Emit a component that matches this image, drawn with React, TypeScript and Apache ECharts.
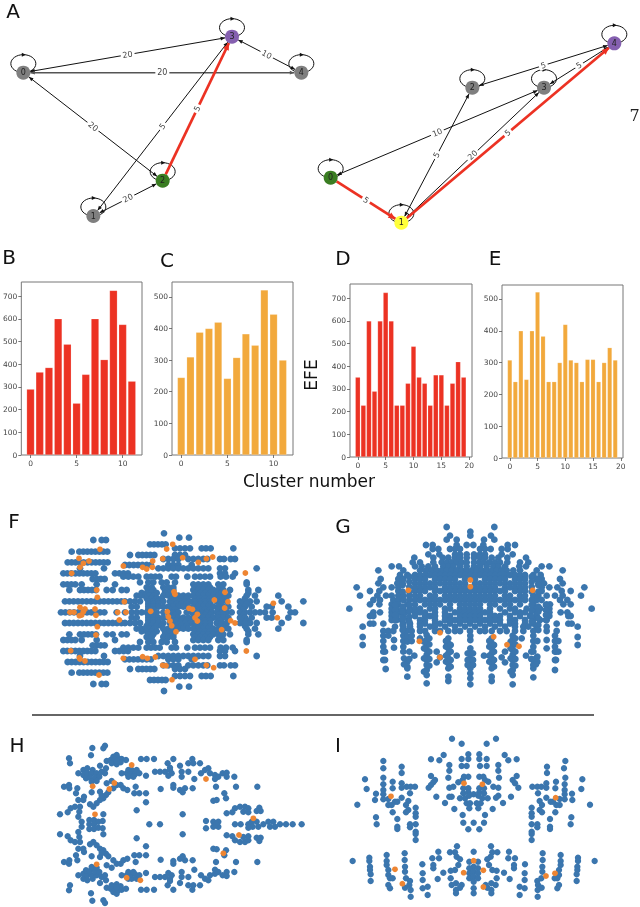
import React, { useEffect, useRef } from "react";
import * as echarts from "echarts";

const FONT = "'DejaVu Sans', sans-serif";
const RED = "#ec3223";
const ORANGE_BAR = "#f2a93c";
const BLUE = "#3b76ae";
const ORANGE = "#ee8532";

// Bar charts
const valuesB = [290, 365, 385, 600, 488, 228, 355, 600, 420, 725, 575, 325];
const valuesC = [245, 310, 388, 400, 420, 242, 308, 383, 347, 522, 445, 300];
const valuesD = [352, 228, 600, 290, 600, 725, 600, 228, 228, 325, 488, 352, 325, 228, 362, 362, 228, 325, 420, 352];
const valuesE = [308, 240, 400, 247, 400, 522, 383, 240, 240, 300, 420, 308, 300, 240, 310, 310, 240, 300, 347, 308];
const ticks12 = [0, 5, 10];
const ticks20 = [0, 5, 10, 15, 20];
const ticksRed = [0, 100, 200, 300, 400, 500, 600, 700];
const ticksOrange = [0, 100, 200, 300, 400, 500];

// Networks: [label, x, y, colour]
const nodesL: [string, number, number, string][] = [
  ["0", 70, 218, "#7f7f7f"], ["1", 280, 648, "#7f7f7f"], ["2", 488, 542, "#3a7d22"],
  ["3", 696, 110, "#8560b0"], ["4", 904, 218, "#7f7f7f"],
];
// [from, to, weight, arrow at start, highlighted]
const edgesL: [number, number, number, number, number][] = [
  [0, 3, 20, 1, 0], [0, 4, 20, 1, 0], [0, 2, 20, 1, 0], [1, 3, 5, 1, 0], [1, 2, 20, 1, 0], [3, 4, 10, 1, 0], [2, 3, 5, 0, 1],
];
const nodesR: [string, number, number, string][] = [
  ["0", 62, 533, "#3a7d22"], ["1", 274, 668, "#ffff3a"], ["2", 487, 263, "#7f7f7f"],
  ["3", 702, 263, "#7f7f7f"], ["4", 913, 130, "#8560b0"],
];
const edgesR: [number, number, number, number, number][] = [
  [1, 2, 5, 1, 0], [1, 3, 20, 1, 0], [0, 3, 10, 1, 0], [2, 4, 5, 1, 0], [3, 4, 5, 1, 0], [0, 1, 5, 0, 1], [1, 4, 5, 0, 1],
];

// Scatter F: rows [y, x, x, ...]
const rowsF = [
  [85, 492], [98, 538, 567], [105, 280, 305, 318], [118, 450, 462, 474, 486, 497], [130, 525, 540, 555, 570, 605, 618, 632, 700],
  [140, 215, 238, 250, 262, 274, 286, 298, 310, 322], [150, 390, 415, 427, 439, 451, 463, 525, 540, 555],
  [162, 490, 505, 520, 535, 565, 580, 595, 610, 622, 660, 672, 692, 705],
  [172, 203, 215, 227, 239, 251, 263, 275, 287, 299, 311, 323],
  [180, 375, 388, 401, 414, 427, 440, 453, 505, 520, 535, 575],
  [190, 240, 312, 475, 490, 505, 520, 535, 550, 565, 580, 595, 610, 625, 660, 675, 770],
  [205, 190, 202, 214, 226, 238, 250, 262, 274, 286, 345, 358, 371, 384, 660, 675, 705],
  [215, 370, 385, 400, 415, 440, 453, 466, 479, 515, 528, 562, 585, 600, 615, 630, 662, 678, 698],
  [222, 278, 290, 302, 314], [232, 420, 445, 460, 485, 500, 525, 740],
  [238, 190, 202, 214, 226, 245, 290, 345, 580, 595, 610, 625, 655, 670, 740],
  [247, 440, 455, 490, 505, 520, 585, 600, 615, 630, 660],
  [255, 208, 240, 252, 264, 276, 288, 320, 338, 365, 380, 445, 460, 495, 520, 580, 595, 610, 625, 640, 655, 670, 690, 745, 775],
  [264, 425, 440, 455, 470, 495, 510, 585, 600, 615, 630, 650, 665, 745],
  [272, 410, 423, 436, 449, 462, 490, 505, 520, 535, 550, 565, 580, 595, 610, 625, 640, 655, 670, 685, 740, 765, 835],
  [280, 440, 455, 470, 485, 515, 530, 545, 560, 585, 600, 615, 630, 660, 675, 735],
  [289, 195, 208, 221, 234, 247, 260, 273, 286, 299, 312, 325, 338, 351, 364, 375, 390, 405, 420, 445, 460, 475, 490, 510, 525, 540, 555, 570, 585, 600, 615, 630, 650, 665, 680, 720, 735, 750, 770, 845, 910],
  [297, 445, 460, 475, 515, 530, 545, 560, 585, 600, 615, 630, 660, 725, 740],
  [305, 395, 410, 445, 460, 475, 490, 505, 520, 535, 550, 565, 580, 595, 610, 625, 640, 655, 670, 685, 720, 735, 755, 800, 815, 865],
  [313, 445, 460, 510, 525, 585, 600, 615, 630, 655, 670, 730],
  [322, 183, 196, 209, 222, 235, 248, 261, 274, 287, 300, 313, 350, 375, 395, 410, 425, 440, 455, 470, 490, 505, 520, 535, 560, 575, 590, 605, 620, 635, 650, 665, 680, 695, 720, 735, 750, 765, 780, 795, 818, 872, 885],
  [330, 445, 460, 510, 525, 585, 600, 615, 630, 655, 670, 730],
  [338, 395, 410, 445, 460, 475, 490, 505, 520, 535, 550, 565, 580, 595, 610, 625, 640, 655, 670, 685, 720, 735, 755, 800, 815, 865],
  [346, 445, 460, 475, 515, 530, 545, 560, 585, 600, 615, 630, 660, 725, 740],
  [354, 195, 208, 221, 234, 247, 260, 273, 286, 299, 312, 325, 338, 351, 364, 375, 390, 405, 420, 445, 460, 475, 490, 510, 525, 540, 555, 570, 585, 600, 615, 630, 650, 665, 680, 720, 735, 750, 770, 845, 910],
  [363, 440, 455, 470, 485, 515, 530, 545, 560, 585, 600, 615, 630, 660, 675, 735],
  [371, 410, 423, 436, 449, 462, 490, 505, 520, 535, 550, 565, 580, 595, 610, 625, 640, 655, 670, 685, 740, 765, 835],
  [379, 425, 440, 455, 470, 495, 510, 585, 600, 615, 630, 650, 665, 745],
  [388, 208, 240, 252, 264, 276, 288, 320, 338, 365, 380, 445, 460, 495, 520, 580, 595, 610, 625, 640, 655, 670, 690, 745, 775],
  [396, 440, 455, 490, 505, 520, 585, 600, 615, 630, 660],
  [405, 190, 202, 214, 226, 245, 290, 345, 580, 595, 610, 625, 655, 670, 740],
  [411, 420, 445, 460, 485, 500, 525, 740], [421, 278, 290, 302, 314],
  [428, 370, 385, 400, 415, 440, 453, 466, 479, 515, 528, 562, 585, 600, 615, 630, 662, 678, 698],
  [438, 190, 202, 214, 226, 238, 250, 262, 274, 286, 345, 358, 371, 384, 660, 675, 705],
  [453, 240, 312, 475, 490, 505, 520, 535, 550, 565, 580, 595, 610, 625, 660, 675, 770],
  [463, 375, 388, 401, 414, 427, 440, 453, 505, 520, 535, 575],
  [471, 203, 215, 227, 239, 251, 263, 275, 287, 299, 311, 323],
  [481, 490, 505, 520, 535, 565, 580, 595, 610, 622, 660, 672, 692, 705],
  [492, 390, 415, 427, 439, 451, 463, 525, 540, 555], [503, 215, 238, 250, 262, 274, 286, 298, 310, 322],
  [513, 525, 540, 555, 570, 605, 618, 632, 700], [525, 450, 462, 474, 486, 497], [537, 280, 305, 318], [545, 538, 567], [558, 492],
];
const orangeF = [
  [300, 133], [518, 118], [500, 132], [488, 161], [458, 168], [548, 158], [595, 172], [619, 161], [638, 156], [237, 160], [267, 168], [250, 175], [240, 187],
  [370, 183], [428, 187], [440, 192], [457, 187], [215, 205], [736, 204], [290, 255], [292, 277], [522, 260], [525, 268], [675, 262], [373, 290], [684, 290], [643, 285],
  [240, 307], [255, 312], [250, 320], [245, 330], [238, 332], [210, 322], [222, 322], [285, 312], [288, 331], [353, 322], [378, 322], [452, 319], [502, 320], [505, 335],
  [510, 348], [515, 362], [528, 380], [567, 310], [577, 313], [592, 328], [585, 338], [592, 348], [674, 309], [692, 347], [705, 354], [665, 374], [820, 295], [832, 338],
  [358, 345], [292, 365], [288, 390], [212, 437], [739, 438], [238, 458], [255, 468], [240, 462], [370, 460], [428, 455], [442, 460], [466, 456], [488, 481], [498, 482],
  [585, 463], [619, 481], [641, 488], [297, 510], [516, 524],
];

// Scatter G: rows [y, x, ...] for the upper body, columns [x, y, ...] for the legs
const rowsG = [
  [66, 380, 523], [80, 451], [92, 390, 451, 513], [104, 380, 410, 492, 523], [120, 318, 338, 410, 440, 460, 490, 563, 585],
  [132, 338, 355, 390, 405, 420, 480, 495, 512, 545, 563], [148, 325, 358, 405, 420, 440, 462, 480, 495, 545, 578],
  [158, 283, 340, 368, 385, 405, 420, 440, 462, 480, 495, 515, 535, 562, 618],
  [172, 278, 300, 340, 365, 380, 395, 410, 425, 440, 462, 478, 492, 508, 525, 540, 562, 600, 625],
  [184, 215, 237, 285, 305, 325, 345, 370, 385, 400, 420, 440, 462, 480, 500, 520, 535, 555, 598, 618, 665, 688],
  [196, 175, 250, 300, 318, 335, 350, 365, 380, 395, 410, 425, 440, 455, 470, 485, 500, 515, 530, 545, 560, 580, 600, 650, 728],
  [210, 240, 262, 285, 300, 315, 330, 345, 360, 375, 390, 405, 420, 435, 450, 465, 480, 495, 510, 525, 540, 555, 570, 585, 600, 615, 640, 662],
  [222, 182, 235, 250, 285, 300, 315, 345, 360, 375, 390, 405, 435, 465, 495, 510, 525, 540, 555, 585, 600, 615, 650, 665, 720],
  [235, 175, 232, 248, 285, 300, 315, 330, 345, 360, 375, 390, 405, 420, 435, 465, 480, 495, 510, 525, 540, 555, 570, 585, 600, 615, 655, 672, 728],
  [247, 110, 190, 215, 235, 285, 300, 315, 330, 345, 375, 390, 405, 420, 435, 450, 465, 480, 495, 510, 525, 555, 570, 585, 600, 615, 665, 688, 712, 793],
  [258, 150, 178, 235, 285, 300, 315, 345, 360, 375, 390, 405, 420, 435, 450, 465, 480, 495, 510, 525, 540, 555, 585, 600, 615, 665, 725, 752],
  [272, 120, 172, 198, 215, 235, 250, 268, 285, 300, 330, 345, 375, 390, 405, 420, 435, 450, 465, 480, 495, 510, 525, 555, 570, 600, 615, 640, 655, 680, 705, 728, 783],
  [285, 160, 180, 220, 235, 250, 285, 300, 315, 330, 345, 360, 375, 390, 405, 420, 435, 450, 465, 480, 495, 510, 525, 540, 555, 570, 585, 600, 615, 650, 665, 720, 742],
  [298, 150, 178, 215, 235, 262, 285, 315, 330, 345, 360, 390, 420, 435, 450, 465, 480, 510, 525, 555, 570, 600, 640, 680, 690, 730, 752],
  [311, 88, 215, 230, 250, 270, 285, 300, 330, 345, 375, 390, 420, 435, 450, 465, 480, 510, 540, 570, 585, 620, 640, 660, 688, 815],
  [322, 160, 180, 215, 240, 255, 285, 300, 315, 345, 375, 405, 420, 435, 450, 465, 480, 495, 510, 555, 585, 600, 615, 650, 688, 722, 742],
  [333, 150, 160, 215, 230, 250, 285, 315, 330, 345, 375, 390, 420, 435, 450, 465, 480, 510, 525, 540, 570, 600, 630, 650, 688, 745, 752],
  [345, 215, 230, 245, 265, 300, 315, 345, 375, 390, 405, 420, 435, 450, 465, 480, 495, 510, 525, 540, 570, 585, 615, 640, 660, 680],
  [356, 150, 160, 190, 250, 270, 300, 315, 345, 360, 390, 420, 450, 480, 510, 540, 570, 585, 615, 640, 710, 745, 755],
  [365, 128, 225, 250, 270, 300, 330, 345, 375, 405, 435, 465, 495, 525, 555, 585, 610, 625, 650, 680, 773],
  [378, 190, 205, 220, 260, 275, 300, 315, 345, 360, 385, 405, 420, 450, 480, 495, 515, 540, 560, 585, 610, 640, 680, 710],
  [396, 128, 773],
  [420, 128, 773],
];
const colsG = [
  [190, 392, 408, 425, 440, 465], [205, 392], [197, 492], [222, 405, 428], [250, 392, 408, 425, 440], [262, 395, 410, 470, 485, 490, 515], [275, 392, 408], [283, 452],
  [320, 390, 405, 420, 435, 450, 465, 480, 495, 510, 535], [350, 440, 472], [360, 457], [385, 400, 415, 430, 445, 460, 475, 490, 515, 528], [410, 452],
  [451, 392, 405, 430, 445, 460, 475, 490, 505, 520, 538], [492, 452], [515, 400, 415, 430, 445, 460, 475, 490, 515, 528], [555, 440, 472], [545, 457],
  [578, 392, 405, 420, 435, 450, 465, 480, 495, 510, 538], [618, 452], [640, 392, 408, 425, 440, 465, 480, 490, 517], [652, 408, 455, 470], [680, 405, 430],
  [705, 392, 408, 425, 440, 465, 495], [715, 408, 440], [300, 400], [605, 400],
  [268, 215, 230, 245, 260, 285, 300, 318, 335, 350], [248, 225, 240, 260, 305, 320, 340, 360, 375], [635, 215, 230, 245, 260, 285, 300, 318, 335, 350], [655, 225, 240, 260, 305, 320, 340, 360, 375],
  [225, 300, 315, 330, 345], [678, 300, 315, 330, 345],
  [252, 460, 478], [268, 440, 462], [328, 400, 418, 440, 462, 482], [312, 410, 430, 460, 500], [378, 408, 425, 452, 470], [392, 420, 440, 465, 485],
  [443, 445, 465, 480], [459, 445, 465, 480], [508, 408, 425, 452, 470], [522, 420, 440, 465, 485], [572, 410, 430, 460, 500], [586, 400, 418, 440, 462, 482], [634, 440, 462], [648, 460, 478],
  [195, 440, 465], [708, 440, 465],
];
const orangeG = [[451, 225], [451, 245], [265, 256], [638, 256], [360, 383], [298, 409], [521, 395], [561, 419], [597, 424], [360, 457]];

// Scatter H: points [x, y]
const blueH = [
  [277, 129], [315, 122], [310, 130], [273, 151], [207, 160], [210, 175], [320, 168], [332, 165], [340, 155], [350, 150], [345, 165], [355, 160], [365, 162], [378, 165], [335, 175], [350, 178], [362, 172], [350, 168],
  [423, 162], [440, 162], [462, 162], [520, 162], [503, 175], [510, 188], [540, 182], [565, 175], [577, 162], [580, 175], [600, 175],
  [235, 205], [250, 195], [262, 190], [278, 195], [300, 182], [318, 190], [250, 210], [262, 205], [275, 205], [290, 205], [305, 200], [258, 220], [270, 218], [285, 218], [298, 215], [275, 230], [290, 228], [315, 205],
  [365, 205], [380, 205], [385, 195], [395, 195], [410, 195], [392, 208], [405, 208], [418, 205], [385, 215], [400, 215], [438, 212],
  [465, 200], [480, 200], [495, 200], [510, 195], [515, 205], [505, 212], [545, 200], [565, 200], [545, 215], [583, 222],
  [603, 205], [615, 195], [625, 190], [630, 205], [645, 210], [645, 222], [655, 215], [668, 205], [680, 203], [680, 215], [703, 215],
  [192, 245], [207, 240], [208, 250], [232, 250], [228, 265], [252, 275], [275, 262], [300, 260], [320, 235], [335, 228], [350, 240], [362, 240], [370, 250], [382, 255], [340, 250], [325, 262], [318, 270], [310, 280], [300, 285], [290, 295], [305, 272],
  [407, 245], [403, 265], [418, 265], [438, 265], [438, 292], [482, 252], [520, 240], [520, 248], [540, 255], [555, 250], [548, 262], [578, 250], [648, 245], [708, 245], [772, 245], [673, 265], [678, 280], [640, 287], [650, 285],
  [235, 285], [250, 285], [240, 305], [225, 305], [212, 310], [203, 322], [180, 328], [238, 320], [235, 335], [270, 298], [280, 305], [410, 316], [310, 328], [548, 328],
  [680, 325], [697, 322], [705, 310], [720, 305], [735, 305], [745, 310], [730, 320], [745, 322], [778, 308], [770, 318], [782, 318],
  [448, 358], [480, 358], [618, 348], [618, 370], [640, 350], [655, 350], [640, 365], [655, 365], [648, 358], [705, 358], [722, 358], [745, 358], [755, 350], [770, 350], [758, 365], [775, 365], [745, 368], [790, 358], [805, 350], [820, 350], [825, 365], [810, 365], [840, 358], [858, 358], [878, 358], [905, 358],
  [245, 350], [245, 365], [268, 345], [282, 345], [295, 350], [308, 348], [268, 358], [282, 358], [268, 372], [282, 372], [295, 368], [308, 370],
  [680, 391], [697, 394], [705, 406], [720, 411], [735, 411], [745, 406], [730, 396], [745, 394], [778, 408], [770, 398], [782, 398],
  [235, 431], [250, 431], [240, 411], [225, 411], [212, 406], [203, 394], [180, 388], [238, 396], [235, 381], [270, 418], [280, 411], [410, 400], [310, 388], [548, 388],
  [192, 471], [207, 476], [208, 466], [232, 466], [228, 451], [252, 441], [275, 454], [300, 456], [320, 481], [335, 488], [350, 476], [362, 476], [370, 466], [382, 461], [340, 466], [325, 454], [318, 446], [310, 436], [300, 431], [290, 421], [305, 444],
  [407, 471], [403, 451], [418, 451], [438, 451], [438, 424], [482, 464], [520, 476], [520, 468], [540, 461], [555, 466], [548, 454], [578, 466], [648, 471], [708, 471], [772, 471], [673, 451], [678, 436], [640, 431], [650, 433],
  [603, 511], [615, 521], [625, 526], [630, 511], [645, 506], [645, 494], [655, 501], [668, 511], [680, 513], [680, 501], [703, 501],
  [465, 516], [480, 516], [495, 516], [510, 521], [515, 511], [505, 504], [545, 516], [565, 516], [545, 501], [583, 494],
  [365, 511], [380, 511], [385, 521], [395, 521], [410, 521], [392, 508], [405, 508], [418, 511], [385, 501], [400, 501], [438, 504],
  [235, 511], [250, 521], [262, 526], [278, 521], [300, 534], [318, 526], [250, 506], [262, 511], [275, 511], [290, 511], [305, 516], [258, 496], [270, 498], [285, 498], [298, 501], [275, 486], [290, 488], [315, 511],
  [423, 554], [440, 554], [462, 554], [520, 554], [503, 541], [510, 528], [540, 534], [565, 541], [577, 554], [580, 541], [600, 541],
  [320, 548], [332, 551], [340, 561], [350, 566], [345, 551], [355, 556], [365, 554], [378, 551], [335, 541], [350, 538], [362, 544], [350, 548],
  [277, 587], [315, 594], [310, 586], [273, 565], [207, 556], [210, 541],
];
const orangeH = [[395, 180], [278, 244], [343, 234], [328, 252], [618, 222], [285, 328], [760, 340], [717, 390], [670, 445], [290, 478], [380, 518], [421, 526]];

// Scatter I: points [x, y]
const blueI = [
  [396, 101], [528, 101], [425, 116], [500, 116], [371, 150], [554, 150], [333, 163], [590, 163], [358, 166], [565, 166], [445, 148], [478, 148], [425, 162], [445, 162], [478, 162], [500, 162], [425, 183], [440, 183], [480, 183], [500, 183],
  [388, 180], [535, 180], [388, 197], [535, 197], [385, 218], [537, 218], [333, 213], [590, 213], [345, 225], [340, 232], [333, 240], [326, 248], [578, 225], [585, 235], [595, 248], [432, 215], [445, 215], [478, 215], [490, 215],
  [388, 248], [400, 245], [415, 232], [428, 225], [495, 225], [505, 230], [520, 245], [535, 248], [430, 250], [445, 250], [478, 250], [492, 250], [430, 265], [445, 262], [478, 262], [492, 265], [435, 280], [447, 272], [461, 268], [475, 272], [487, 280],
  [440, 295], [450, 295], [470, 295], [482, 295], [388, 275], [395, 275], [535, 272], [528, 278], [349, 275], [573, 275], [375, 294], [549, 294], [420, 280], [503, 280], [403, 312], [518, 312], [448, 310], [475, 310], [428, 330], [495, 330], [430, 353], [461, 353], [492, 353], [445, 373], [478, 373],
  [190, 168], [190, 190], [245, 185], [245, 204], [190, 218], [135, 223], [218, 230], [190, 238], [245, 235], [245, 248], [260, 245], [272, 245], [285, 245], [140, 252], [190, 255], [218, 250], [190, 268], [168, 266], [270, 265], [245, 278], [165, 285], [190, 283], [205, 282], [225, 290], [232, 290], [205, 300], [215, 300], [265, 288], [258, 300], [112, 299], [218, 322], [265, 315], [258, 322], [287, 308], [287, 325], [287, 335], [168, 337], [170, 358], [232, 342], [232, 365], [232, 372], [270, 358], [270, 367], [287, 358], [287, 380], [287, 387], [287, 405],
  [736, 168], [732, 190], [681, 185], [681, 204], [736, 218], [787, 223], [708, 230], [734, 238], [679, 235], [679, 248], [664, 245], [652, 245], [637, 245], [784, 252], [734, 255], [706, 250], [734, 268], [756, 266], [654, 265], [679, 278], [757, 285], [734, 283], [719, 282], [699, 290], [692, 290], [719, 300], [709, 300], [659, 288], [666, 300], [810, 299], [706, 322], [659, 315], [666, 322], [635, 308], [635, 325], [635, 335], [754, 337], [752, 358], [690, 342], [690, 365], [690, 372], [652, 358], [652, 367], [635, 358], [635, 380], [635, 387], [635, 405],
  [98, 468], [148, 458], [148, 468], [150, 485], [150, 495], [152, 508], [152, 528], [200, 450], [200, 468], [200, 480], [205, 495], [205, 510], [210, 520], [218, 520], [205, 540], [210, 550], [254, 445], [254, 465], [255, 485], [255, 500], [258, 520], [270, 528], [268, 540], [255, 548], [272, 555], [272, 575], [307, 478], [308, 505], [308, 525], [308, 550], [323, 545], [323, 570],
  [337, 460], [355, 440], [357, 460], [340, 480], [340, 490], [353, 522], [370, 503], [390, 442], [405, 442], [410, 455], [420, 463], [415, 480], [405, 495], [392, 497], [392, 520], [408, 535], [408, 555], [408, 565], [395, 540], [425, 540], [420, 548], [411, 424],
  [461, 440], [448, 470], [461, 485], [474, 470], [448, 490], [448, 505], [448, 520], [461, 500], [461, 515], [474, 490], [474, 505], [474, 520], [461, 530], [461, 550], [461, 565],
  [513, 424], [585, 460], [567, 440], [565, 460], [582, 480], [582, 490], [569, 522], [552, 503], [532, 442], [517, 442], [512, 455], [502, 463], [507, 480], [517, 495], [530, 497], [530, 520], [514, 535], [514, 555], [514, 565], [527, 540], [497, 540], [502, 548],
  [824, 468], [774, 458], [774, 468], [772, 485], [772, 495], [770, 508], [770, 528], [722, 450], [722, 468], [722, 480], [717, 495], [717, 510], [712, 520], [704, 520], [717, 540], [712, 550], [668, 445], [668, 465], [667, 485], [667, 500], [664, 520], [652, 528], [654, 540], [665, 548], [653, 555], [653, 575], [615, 478], [614, 505], [614, 525], [614, 550], [599, 545], [599, 570],
];
const orangeI = [[213, 274], [432, 235], [487, 238], [707, 278], [461, 467], [225, 493], [431, 503], [490, 496], [247, 536], [490, 546], [678, 513], [705, 505]];

const panelLabels: [string, number, number][] = [
  ["A", 13, 11], ["B", 9, 257], ["C", 167, 260], ["D", 343, 258], ["E", 495, 258], ["F", 14, 521], ["G", 343, 526], ["H", 17, 745], ["I", 338, 745],
];

const fromRows = (rows: number[][]) => rows.flatMap(([y, ...xs]) => xs.map((x) => [x, y]));
const fromCols = (cols: number[][]) => cols.flatMap(([x, ...ys]) => ys.map((y) => [x, y]));

function barPanel(i: number, values: number[], color: string, width: number) {
  return {
    type: "bar", xAxisIndex: i, yAxisIndex: i, barWidth: width, silent: true,
    itemStyle: { color, borderColor: "rgba(255,255,255,0.35)", borderWidth: 0.5 },
    data: values.map((v, k) => [k, v]),
  };
}

function edgeItem(p: any, api: any) {
  const a = api.coord([api.value(0), api.value(1)]);
  const b = api.coord([api.value(2), api.value(3)]);
  const arrowStart = api.value(5);
  const hot = api.value(6);
  const soft = api.value(7);
  const dx = b[0] - a[0], dy = b[1] - a[1];
  const len = Math.hypot(dx, dy);
  const ux = dx / len, uy = dy / len;
  const r = 7;
  const color = hot ? RED : soft ? "#555" : "#111";
  const width = hot ? 2.7 : soft ? 1.5 : 1;
  const head = (tx: number, ty: number, vx: number, vy: number) => {
    const L = hot ? 7 : 4.5, H = hot ? 3.2 : 1.9;
    return {
      type: "polygon",
      shape: { points: [[tx, ty], [tx - vx * L - vy * H, ty - vy * L + vx * H], [tx - vx * L + vy * H, ty - vy * L - vx * H]] },
      style: { fill: color },
    };
  };
  let ang = Math.atan2(dy, dx);
  if (ang > Math.PI / 2) ang -= Math.PI;
  if (ang < -Math.PI / 2) ang += Math.PI;
  const mx = (a[0] + b[0]) / 2, my = (a[1] + b[1]) / 2;
  const txt = String(api.value(4));
  const w = txt.length * 5 + 4;
  const children: any[] = [
    { type: "line", shape: { x1: a[0] + ux * r, y1: a[1] + uy * r, x2: b[0] - ux * r, y2: b[1] - uy * r }, style: { stroke: color, lineWidth: width } },
    head(b[0] - ux * r, b[1] - uy * r, ux, uy),
  ];
  if (arrowStart) children.push(head(a[0] + ux * r, a[1] + uy * r, -ux, -uy));
  children.push(
    { type: "rect", x: mx, y: my, rotation: -ang, shape: { x: -w / 2, y: -4, width: w, height: 8 }, style: { fill: "#fff" } },
    { type: "text", x: mx, y: my, rotation: -ang, style: { text: txt, fill: "#444", font: `8px ${FONT}`, align: "center", verticalAlign: "middle" } },
  );
  return { type: "group", children };
}

function loopItem(p: any, api: any) {
  const c = api.coord([api.value(0), api.value(1)]);
  const cy = c[1] - 9;
  return {
    type: "group",
    children: [
      { type: "ellipse", shape: { cx: c[0], cy, rx: 12.5, ry: 9 }, style: { stroke: "#111", fill: "none", lineWidth: 1 } },
      { type: "polygon", shape: { points: [[c[0] + 2.5, cy - 9], [c[0] - 1.5, cy - 11], [c[0] - 1.5, cy - 7]] }, style: { fill: "#111" } },
    ],
  };
}

function network(i: number, nodes: [string, number, number, string][], edges: number[][]) {
  return [
    {
      type: "custom", xAxisIndex: i, yAxisIndex: i, silent: true, z: 2, renderItem: loopItem, clip: false,
      encode: { x: 0, y: 1 }, data: nodes.map((n) => [n[1], n[2]]),
    },
    {
      type: "custom", xAxisIndex: i, yAxisIndex: i, silent: true, z: 3, renderItem: edgeItem, clip: false,
      encode: { x: [0, 2], y: [1, 3] },
      data: edges.map(([s, t, w, start, hot]) => [nodes[s][1], nodes[s][2], nodes[t][1], nodes[t][2], w, start, hot, nodes === nodesL && s === 0 && t === 4 ? 1 : 0]),
    },
    {
      type: "scatter", xAxisIndex: i, yAxisIndex: i, silent: true, z: 4, symbolSize: 14,
      label: { show: true, position: "inside", formatter: "{b}", fontFamily: FONT, fontSize: 8, color: "#222" },
      data: nodes.map((n) => ({ name: n[0], value: [n[1], n[2]], itemStyle: { color: n[3], opacity: 1 } })),
    },
  ];
}

function dots(i: number, blue: number[][], orange: number[][], size: number) {
  return [
    { type: "scatter", xAxisIndex: i, yAxisIndex: i, silent: true, z: 2, symbolSize: size, itemStyle: { color: BLUE, opacity: 1 }, data: blue },
    { type: "scatter", xAxisIndex: i, yAxisIndex: i, silent: true, z: 3, symbolSize: 5.8, itemStyle: { color: ORANGE, opacity: 1 }, data: orange },
  ];
}

const barBoxes = [
  { left: 20, top: 282, width: 122, height: 173, xMin: -1, xMax: 12.1, yMax: 762, xt: ticks12, yt: ticksRed },
  { left: 172, top: 282, width: 121, height: 173, xMin: -1, xMax: 12.1, yMax: 547, xt: ticks12, yt: ticksOrange },
  { left: 350, top: 284, width: 122, height: 173, xMin: -1.4, xMax: 20.5, yMax: 763, xt: ticks20, yt: ticksRed },
  { left: 502, top: 285, width: 121, height: 173, xMin: -1.4, xMax: 20.4, yMax: 544, xt: ticks20, yt: ticksOrange },
];
const hiddenBoxes = [
  { left: 0, top: 0, width: 320, height: 235, xMax: 960, yMax: 705 },
  { left: 310, top: 0, width: 330, height: 235, xMax: 990, yMax: 705 },
  { left: 0, top: 505, width: 320, height: 195, xMax: 960, yMax: 585 },
  { left: 320, top: 505, width: 320, height: 195, xMax: 960, yMax: 585 },
  { left: 0, top: 705, width: 320, height: 202, xMax: 960, yMax: 606 },
  { left: 320, top: 705, width: 320, height: 202, xMax: 960, yMax: 606 },
];

export default function App() {
  const ref = useRef<HTMLDivElement>(null);
  useEffect(() => {
    const chart = echarts.init(ref.current!, undefined, { renderer: "svg" });
    const tickStyle = { show: true, length: 3, lineStyle: { color: "#555", width: 0.8 } };
    const labelStyle = { fontFamily: FONT, fontSize: 7.5, color: "#444", margin: 4 };
    const hiddenLine = { show: false, onZero: false };
    chart.setOption({
      animation: false,
      backgroundColor: "#fff",
      grid: [
        ...barBoxes.map((b) => ({ left: b.left, top: b.top, width: b.width, height: b.height, show: true, borderColor: "#777", borderWidth: 1, containLabel: false })),
        ...hiddenBoxes.map((b) => ({ left: b.left, top: b.top, width: b.width, height: b.height, containLabel: false })),
      ],
      xAxis: [
        ...barBoxes.map((b, i) => ({
          type: "value", gridIndex: i, min: b.xMin, max: b.xMax, splitLine: { show: false }, axisLine: hiddenLine,
          axisTick: { ...tickStyle, customValues: b.xt }, axisLabel: { ...labelStyle, customValues: b.xt },
        })),
        ...hiddenBoxes.map((b, i) => ({ type: "value", gridIndex: i + 4, min: 0, max: b.xMax, show: false })),
      ],
      yAxis: [
        ...barBoxes.map((b, i) => ({
          type: "value", gridIndex: i, min: 0, max: b.yMax, splitLine: { show: false }, axisLine: hiddenLine,
          axisTick: { ...tickStyle, customValues: b.yt }, axisLabel: { ...labelStyle, customValues: b.yt },
        })),
        ...hiddenBoxes.map((b, i) => ({ type: "value", gridIndex: i + 4, min: 0, max: b.yMax, inverse: true, show: false })),
      ],
      series: [
        barPanel(0, valuesB, RED, 7.8),
        barPanel(1, valuesC, ORANGE_BAR, 7.6),
        barPanel(2, valuesD, RED, 5),
        barPanel(3, valuesE, ORANGE_BAR, 4.6),
        ...network(4, nodesL, edgesL),
        ...network(5, nodesR, edgesR),
        ...dots(6, fromRows(rowsF), orangeF, 6.8),
        ...dots(7, [...fromRows(rowsG), ...fromCols(colsG)], orangeG, 6.8),
        ...dots(8, blueH, orangeH, 6.4),
        ...dots(9, blueI, orangeI, 6.4),
      ],
      graphic: [
        ...panelLabels.map(([text, x, y]) => ({
          type: "text", x, y, style: { text, font: `20px ${FONT}`, fill: "#111", align: "center", verticalAlign: "middle" },
        })),
        { type: "text", x: 309, y: 481, style: { text: "Cluster number", font: `17px ${FONT}`, fill: "#111", align: "center", verticalAlign: "middle" } },
        { type: "text", x: 311, y: 375, rotation: Math.PI / 2, style: { text: "EFE", font: `17px ${FONT}`, fill: "#111", align: "center", verticalAlign: "middle" } },
        { type: "text", x: 629.5, y: 115, style: { text: "7", font: "16px 'DejaVu Serif', serif", fill: "#222", align: "left", verticalAlign: "middle" } },
        { type: "line", shape: { x1: 32, y1: 715, x2: 594, y2: 715 }, style: { stroke: "#333", lineWidth: 1.5 } },
      ],
    });
    return () => chart.dispose();
  }, []);
  return <div ref={ref} style={{ position: "absolute", left: 0, top: 0, width: 640, height: 907, filter: "blur(0.35px)" }} />;
}
